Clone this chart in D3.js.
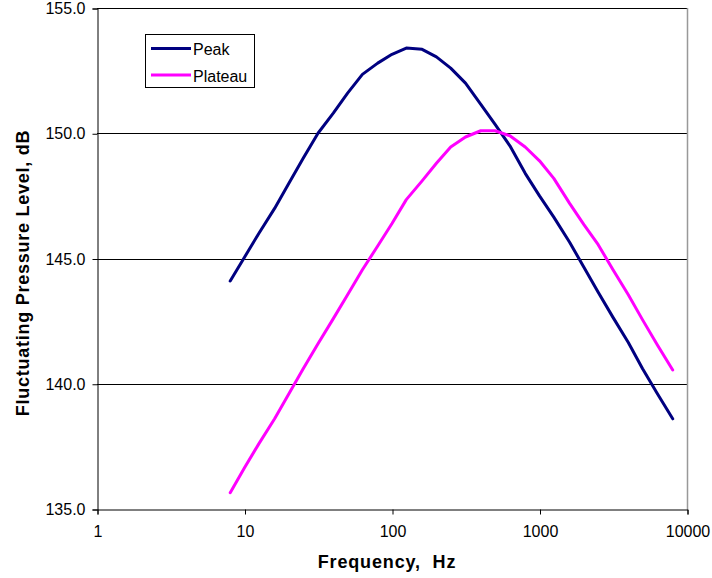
<!DOCTYPE html>
<html>
<head>
<meta charset="utf-8">
<script src="https://cdn.jsdelivr.net/npm/d3@7"></script>
<style>
  html, body { margin: 0; padding: 0; background: #fff; }
  svg { display: block; font-family: "Liberation Sans", Arial, sans-serif; }
</style>
</head>
<body>
<svg id="chart" width="712" height="578"></svg>
<script>
const frequencies = [8, 10, 12.5, 16, 20, 25, 31.5, 40, 50, 63, 80, 100, 125, 160, 200, 250, 315, 400, 500, 630, 800, 1000, 1250, 1600, 2000, 2500, 3150, 4000, 5000, 6300, 8000];
const peakValues = [144.1, 145.05, 146.0, 147.0, 148.0, 149.0, 150.0, 150.8, 151.6, 152.35, 152.8, 153.15, 153.4, 153.35, 153.05, 152.6, 152.0, 151.15, 150.35, 149.5, 148.4, 147.5, 146.65, 145.65, 144.65, 143.65, 142.65, 141.65, 140.6, 139.6, 138.6];
const plateauValues = [135.65, 136.65, 137.6, 138.6, 139.6, 140.6, 141.6, 142.6, 143.55, 144.55, 145.5, 146.4, 147.35, 148.1, 148.8, 149.45, 149.85, 150.1, 150.1, 149.9, 149.45, 148.9, 148.2, 147.2, 146.35, 145.55, 144.55, 143.55, 142.55, 141.55, 140.55];
const seriesNames = ["Peak", "Plateau"];
const seriesColors = ["#000080", "#FF00FF"];
const xTicks = [1, 10, 100, 1000, 10000];
const yTicks = [135, 140, 145, 150, 155];
const xTitle = "Frequency,  Hz";
const yTitle = "Fluctuating Pressure Level, dB";

(function () {
const svg = d3.select("#chart");
const pLeft = 97, pRight = 687, pTop = 8, pBottom = 509;
const fontFam = "Liberation Sans, Arial, sans-serif";

const x = d3.scaleLog().domain([1, 10000]).range([pLeft, pRight]);
const y = d3.scaleLinear().domain([135, 155]).range([pBottom, pTop]);

// gridlines
svg.append("g").selectAll("line").data(yTicks.filter(v => v > 135)).join("line")
  .attr("x1", pLeft).attr("x2", pRight)
  .attr("y1", d => Math.round(y(d)) + 0.5).attr("y2", d => Math.round(y(d)) + 0.5)
  .attr("stroke", "#000").attr("stroke-width", 1);

// right border
svg.append("line").attr("x1", pRight + 0.5).attr("x2", pRight + 0.5)
  .attr("y1", pTop).attr("y2", pBottom + 0.5)
  .attr("stroke", "#999").attr("stroke-width", 1.5);

// y axis
const yAxis = d3.axisLeft(y).tickValues(yTicks).tickFormat(d3.format(".1f")).tickSize(5).tickPadding(7);
const gy = svg.append("g").attr("transform", `translate(${pLeft + 0.5},0.5)`).call(yAxis);
gy.select(".domain").attr("stroke", "#000");
gy.selectAll("text").attr("font-size", 16).attr("fill", "#000").attr("font-family", fontFam);

// x axis
const xAxis = d3.axisBottom(x).tickValues(xTicks).tickFormat(d3.format("d")).tickSize(5).tickPadding(11);
const gx = svg.append("g").attr("transform", `translate(0.5,${pBottom + 0.5})`).call(xAxis);
gx.select(".domain").attr("stroke", "#000");
gx.selectAll("text").attr("font-size", 16).attr("fill", "#000").attr("font-family", fontFam);

// lines
const line = d3.line().x((d, i) => x(frequencies[i])).y(d => y(d));
[peakValues, plateauValues].forEach((vals, k) => {
  svg.append("path").datum(vals)
    .attr("fill", "none").attr("stroke", seriesColors[k]).attr("stroke-width", 3)
    .attr("stroke-linejoin", "round").attr("stroke-linecap", "round")
    .attr("d", line);
});

// legend
const lg = svg.append("g");
lg.append("rect").attr("x", 145.5).attr("y", 34.5).attr("width", 109).attr("height", 53)
  .attr("fill", "#fff").attr("stroke", "#000").attr("stroke-width", 1);
seriesNames.forEach((name, i) => {
  const yy = 48.5 + i * 26.5;
  lg.append("line").attr("x1", 151).attr("x2", 191).attr("y1", yy).attr("y2", yy)
    .attr("stroke", seriesColors[i]).attr("stroke-width", 3);
  lg.append("text").attr("x", 193).attr("y", yy + 6.5).attr("font-size", 16)
    .attr("fill", "#000").text(name);
});

// axis titles
svg.append("text").attr("x", 387).attr("y", 568).attr("text-anchor", "middle")
  .attr("font-size", 18).attr("font-weight", "bold").attr("letter-spacing", "0.85px")
  .style("white-space", "pre").attr("fill", "#000").text(xTitle);
svg.append("text").attr("transform", "translate(29,273) rotate(-90)").attr("text-anchor", "middle")
  .attr("font-size", 18).attr("font-weight", "bold").attr("letter-spacing", "0.75px")
  .attr("fill", "#000").text(yTitle);
})();
</script>
</body>
</html>
